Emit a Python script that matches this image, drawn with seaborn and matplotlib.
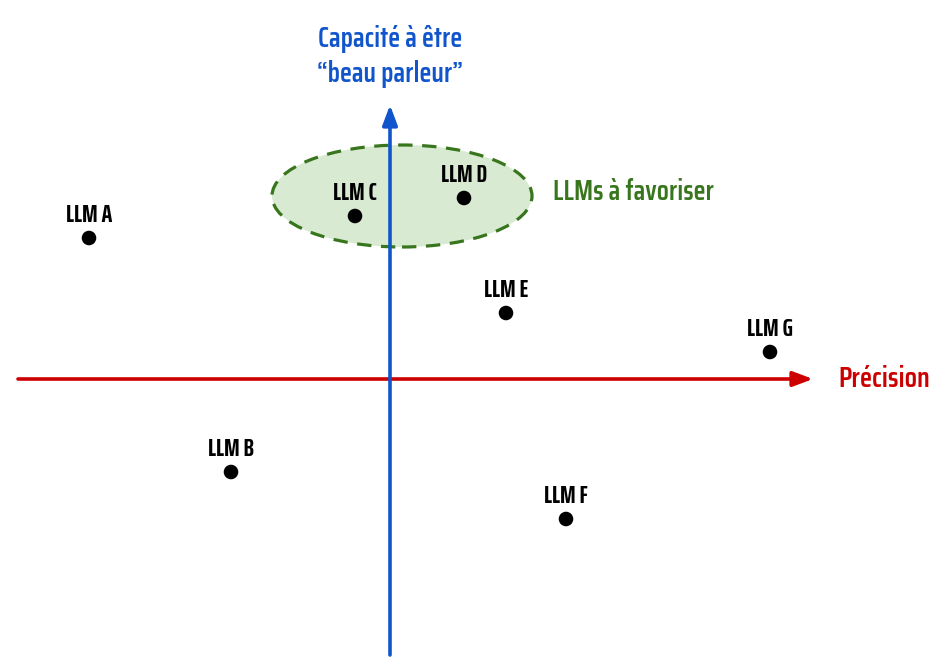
import matplotlib
matplotlib.use("Agg")
from matplotlib import pyplot as plt
from matplotlib.patches import Ellipse
import pandas as pd
import seaborn as sns

# positions des LLM (précision, capacité "beau parleur")
names = ["LLM A", "LLM B", "LLM C", "LLM D", "LLM E", "LLM F", "LLM G"]
precision = [-30.1, -15.9, -3.5, 7.4, 11.6, 17.6, 38.0]
parleur = [14.1, -9.3, 16.3, 18.1, 6.6, -14.0, 2.7]

# zone des LLM à favoriser (centre, largeur, hauteur)
zone_center = (1.2, 18.3)
zone_size = (26.0, 10.2)

df = pd.DataFrame({"llm": names, "precision": precision, "parleur": parleur})

sns.set_style("white")
plt.rcParams["font.family"] = ["Saira ExtraCondensed", "DejaVu Sans"]
TITLE_FONT = ["Saira Condensed", "DejaVu Sans"]

RED = "#cc0000"
BLUE = "#1155cc"
GREEN = "#38761d"

fig = plt.figure(figsize=(9.42, 6.68), dpi=100)
ax = fig.add_axes([0, 0, 1, 1])
ax.set_xlim(-39.0, 55.2)
ax.set_ylim(-28.9, 37.9)
ax.axis("off")

zone = Ellipse(zone_center, zone_size[0], zone_size[1], facecolor="#d9ead3",
               edgecolor=GREEN, linewidth=2.3, linestyle=(0, (4.5, 3)), zorder=1)
ax.add_patch(zone)

# axes fléchés
ax.annotate("", xy=(42.3, 0), xytext=(-37.2, 0),
            arrowprops=dict(arrowstyle="-|>,head_length=1.2,head_width=0.45",
                            color=RED, lw=2.6, shrinkA=0, shrinkB=0), zorder=2)
ax.annotate("", xy=(0, 27.4), xytext=(0, -27.6),
            arrowprops=dict(arrowstyle="-|>,head_length=1.2,head_width=0.45",
                            color=BLUE, lw=2.6, shrinkA=0, shrinkB=0), zorder=3)

ax.text(44.8, 0, "Précision", color=RED, fontsize=20.5, fontweight=600,
        family=TITLE_FONT, ha="left", va="center")
ax.text(0, 32.25, "Capacité à être\n\u201cbeau parleur\u201d", color=BLUE, fontsize=20,
        fontweight=600, family=TITLE_FONT, ha="center", va="center", linespacing=1.3)
ax.text(16.3, 18.7, "LLMs à favoriser", color=GREEN, fontsize=20,
        fontweight=600, family=TITLE_FONT, ha="left", va="center")

sns.scatterplot(data=df, x="precision", y="parleur", color="black", s=110,
                edgecolor="none", ax=ax, zorder=5, legend=False)

for name, x, y in zip(names, precision, parleur):
    ax.annotate(name, xy=(x, y), xytext=(0, 23), textcoords="offset pixels",
                ha="center", va="center", fontsize=18.5, fontweight=700,
                color="black", zorder=6)

fig.savefig("out.png", dpi=100)
